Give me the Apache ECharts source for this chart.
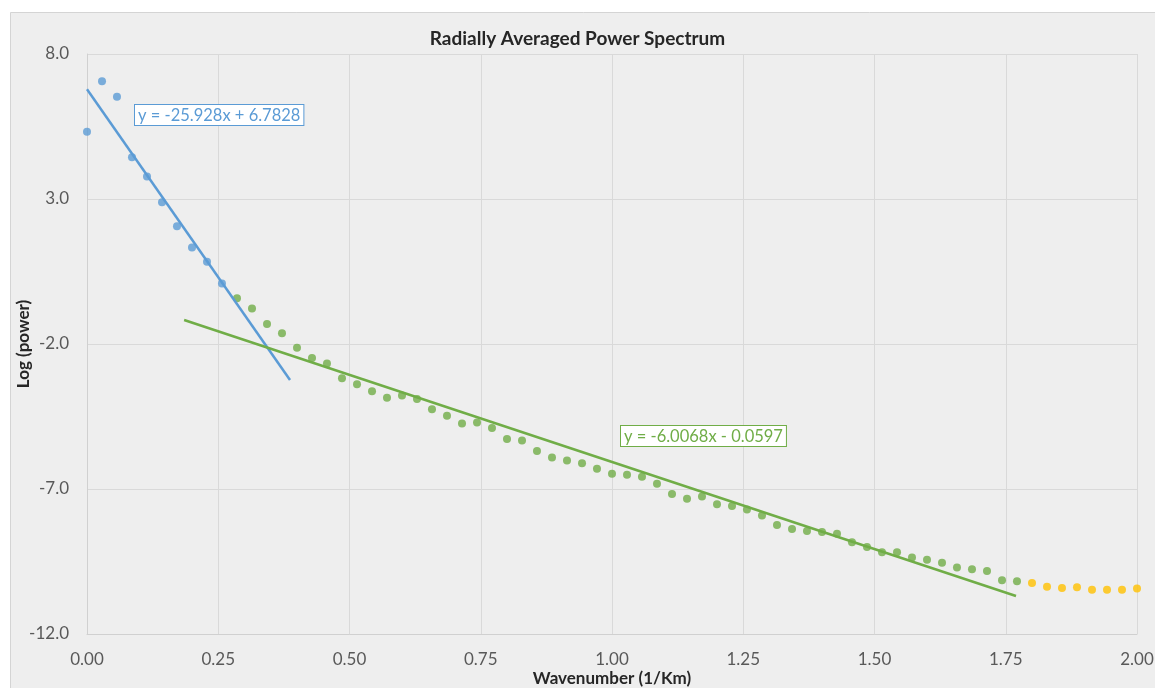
<!DOCTYPE html>
<html>
<head>
<meta charset="utf-8">
<script src="https://cdn.jsdelivr.net/npm/echarts@6/dist/echarts.min.js"></script>
<style>
html,body{margin:0;padding:0;background:#ffffff;overflow:hidden;}
#chart{width:1155px;height:688px;}
</style>
</head>
<body>
<div id="chart"></div>
<script>
// Wavenumber (1/Km)
const blueX = [0, 0.0286, 0.0571, 0.0857, 0.1143, 0.1429, 0.1714, 0.2000, 0.2286, 0.2571];
const blueY = [5.32, 7.06, 6.53, 4.44, 3.78, 2.89, 2.06, 1.33, 0.84, 0.09];

const greenX = [0.2857, 0.3143, 0.3429, 0.3714, 0.4000, 0.4286, 0.4571, 0.4857, 0.5143, 0.5429,
  0.5714, 0.6000, 0.6286, 0.6571, 0.6857, 0.7143, 0.7429, 0.7714, 0.8000, 0.8286,
  0.8571, 0.8857, 0.9143, 0.9429, 0.9714, 1.0000, 1.0286, 1.0571, 1.0857, 1.1143,
  1.1429, 1.1714, 1.2000, 1.2286, 1.2571, 1.2857, 1.3143, 1.3429, 1.3714, 1.4000,
  1.4286, 1.4571, 1.4857, 1.5143, 1.5429, 1.5714, 1.6000, 1.6286, 1.6571, 1.6857,
  1.7143, 1.7429, 1.7714];
const greenY = [-0.42, -0.78, -1.31, -1.63, -2.13, -2.48, -2.67, -3.18, -3.39, -3.63,
  -3.85, -3.78, -3.90, -4.25, -4.47, -4.74, -4.71, -4.90, -5.28, -5.33,
  -5.69, -5.91, -6.02, -6.11, -6.30, -6.47, -6.51, -6.58, -6.82, -7.17,
  -7.34, -7.26, -7.53, -7.59, -7.71, -7.91, -8.24, -8.38, -8.45, -8.48,
  -8.54, -8.84, -9.00, -9.18, -9.18, -9.36, -9.44, -9.54, -9.71, -9.77,
  -9.83, -10.15, -10.18];

const yellowX = [1.8000, 1.8286, 1.8571, 1.8857, 1.9143, 1.9429, 1.9714, 2.0000];
const yellowY = [-10.24, -10.37, -10.41, -10.39, -10.47, -10.47, -10.47, -10.43];

// Linear trendlines: slope, intercept, x-range
const blueFit = { m: -25.928, b: 6.7828, x0: 0, x1: 0.3867 };
const greenFit = { m: -6.0068, b: -0.0597, x0: 0.185, x1: 1.7695 };

const xTicks = [0, 0.25, 0.5, 0.75, 1.0, 1.25, 1.5, 1.75, 2.0];
const yTicks = [-12, -7, -2, 3, 8];

const zip = (xs, ys) => xs.map((x, i) => [x, ys[i]]);
const fitLine = f => [[f.x0, f.m * f.x0 + f.b], [f.x1, f.m * f.x1 + f.b]];

const FONT = 'Lato, "Open Sans", "Liberation Sans", sans-serif';
const BLUE = '#5b9bd5', GREEN = '#70ad47', YELLOW = '#ffc000';

const chart = echarts.init(document.getElementById('chart'), null, { renderer: 'canvas' });
chart.setOption({
  backgroundColor: '#ffffff',
  animation: false,
  graphic: [
    { type: 'rect', z: -10, silent: true, shape: { x: 10.5, y: 12.5, width: 1150, height: 680 },
      style: { fill: '#eeeeee', stroke: '#d4d4d4', lineWidth: 1 } },
    { type: 'text', z: 100, left: 134, top: 104,
      style: { text: 'y = -25.928x + 6.7828', fill: BLUE, font: '16.5px ' + FONT,
        backgroundColor: '#ffffff', borderColor: BLUE, borderWidth: 1, padding: [2, 3, 1, 3] } },
    { type: 'text', z: 100, left: 620, top: 425,
      style: { text: 'y = -6.0068x - 0.0597', fill: GREEN, font: '16.5px ' + FONT,
        backgroundColor: '#ffffff', borderColor: GREEN, borderWidth: 1, padding: [2, 3, 1, 3] } }
  ],
  title: {
    text: 'Radially Averaged Power Spectrum',
    left: 'center', top: 24,
    textStyle: { fontFamily: FONT, fontSize: 19, fontWeight: 'bold', color: '#262626' }
  },
  grid: { left: 87, right: 18, top: 54, bottom: 54, containLabel: false, outerBoundsMode: 'none' },
  xAxis: {
    type: 'value', min: 0, max: 2, interval: 0.25,
    name: 'Wavenumber (1/Km)', nameLocation: 'middle', nameGap: 36, nameMoveOverlap: false,
    nameTextStyle: { fontFamily: FONT, fontSize: 17, fontWeight: 'bold', color: '#262626' },
    axisLine: { show: true, onZero: false, lineStyle: { color: '#d0d0d0' } },
    axisTick: { show: false },
    axisLabel: { fontFamily: FONT, fontSize: 17, color: '#595959', margin: 17,
      formatter: v => xTicks.includes(+v.toFixed(2)) ? v.toFixed(2) : '' },
    splitLine: { show: true, lineStyle: { color: '#d9d9d9' } }
  },
  yAxis: {
    type: 'value', min: -12, max: 8, interval: 5,
    name: 'Log (power)', nameLocation: 'middle', nameGap: 55, nameRotate: 90, nameMoveOverlap: false,
    nameTextStyle: { fontFamily: FONT, fontSize: 17, fontWeight: 'bold', color: '#262626' },
    axisLine: { show: true, onZero: false, lineStyle: { color: '#d0d0d0' } },
    axisTick: { show: false },
    axisLabel: { fontFamily: FONT, fontSize: 17, color: '#595959', margin: 18,
      formatter: v => yTicks.includes(v) ? v.toFixed(1) : '' },
    splitLine: { show: true, lineStyle: { color: '#d9d9d9' } }
  },
  series: [
    { type: 'scatter', name: 'low', data: zip(blueX, blueY), symbolSize: 8,
      itemStyle: { color: BLUE }, z: 3 },
    { type: 'scatter', name: 'mid', data: zip(greenX, greenY), symbolSize: 8,
      itemStyle: { color: GREEN }, z: 3 },
    { type: 'scatter', name: 'high', data: zip(yellowX, yellowY), symbolSize: 8,
      itemStyle: { color: YELLOW }, z: 3 },
    { type: 'line', name: 'fitLow', data: fitLine(blueFit), symbol: 'none',
      lineStyle: { color: BLUE, width: 2.5 }, z: 4 },
    { type: 'line', name: 'fitMid', data: fitLine(greenFit), symbol: 'none',
      lineStyle: { color: GREEN, width: 2.5 }, z: 4 }
  ]
});
</script>
</body>
</html>
